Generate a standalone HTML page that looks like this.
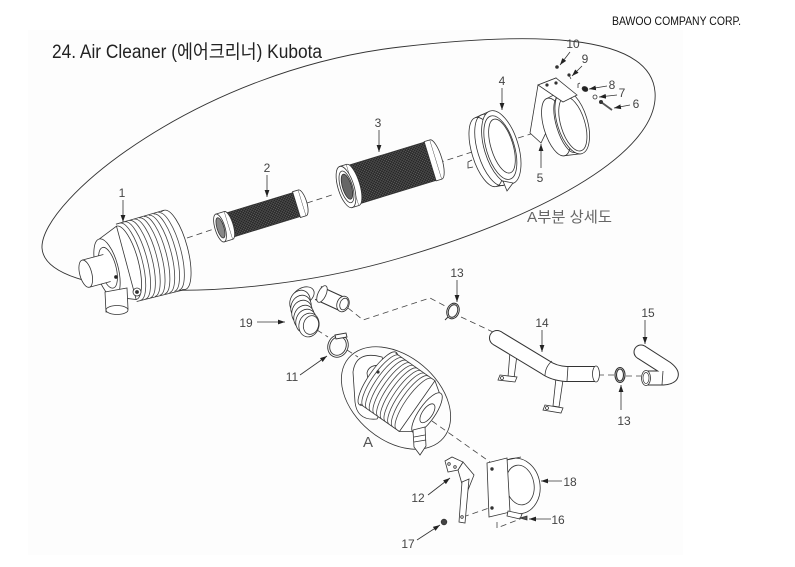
<!DOCTYPE html>
<html><head><meta charset="utf-8">
<style>
html,body{margin:0;padding:0;background:#fff;}
svg{display:block;}
text{font-family:"Liberation Sans","Noto Sans CJK KR",sans-serif;}
</style></head><body>
<svg width="795" height="567" viewBox="0 0 795 567" xmlns="http://www.w3.org/2000/svg">
<defs>
<pattern id="mesh" width="3" height="3" patternUnits="userSpaceOnUse"><rect width="3" height="3" fill="#262626"/><path d="M0,0L3,3M3,0L0,3" stroke="#6a6a6a" stroke-width="0.45"/></pattern>
<marker id="ar" markerWidth="8" markerHeight="6" refX="7" refY="3" orient="auto" markerUnits="userSpaceOnUse"><path d="M0,0.6 L7,3 L0,5.4z" fill="#222"/></marker>
</defs>
<rect x="28" y="30" width="655" height="525" fill="#fdfdfd"/>

<text x="52" y="58" font-size="19" fill="#222" textLength="270" lengthAdjust="spacingAndGlyphs">24. Air Cleaner (에어크리너) Kubota</text>
<text x="612" y="25" font-size="12" fill="#111" textLength="129" lengthAdjust="spacingAndGlyphs">BAWOO COMPANY CORP.</text>

<!-- big detail ellipse -->
<path d="M42,248 C40,200 200,70 400,47 C520,33 650,30 655,92 C660,150 550,214 400,258 C240,305 45,300 42,248 Z" fill="none" stroke="#333" stroke-width="0.9"/>
<text x="527" y="222" font-size="15" fill="#666" textLength="85" lengthAdjust="spacingAndGlyphs">A부분  상세도</text>

<!-- main axis dashes -->
<g stroke="#444" stroke-width="0.8" stroke-dasharray="6,4" fill="none">
<line x1="187" y1="238" x2="214" y2="229"/>
<line x1="307" y1="203" x2="335" y2="194"/>
<line x1="438" y1="163" x2="472" y2="152"/>
<line x1="518" y1="138" x2="560" y2="125"/>
</g>

<!-- Part 1 -->
<g transform="translate(107,268) rotate(-15)" stroke="#333" stroke-width="0.8" fill="#fff">
 <ellipse cx="70" cy="0" rx="13" ry="41"/>
 <rect x="20" y="-40" width="50" height="80" stroke="none"/>
 <line x1="20" y1="-40" x2="70" y2="-41"/>
 <line x1="20" y1="40" x2="70" y2="41"/>
 <g fill="none" stroke="#444">
 <path d="M24,-40 A12 40 0 0 1 24,40"/><path d="M29,-40 A12 40 0 0 1 29,40"/><path d="M34,-40 A12 40 0 0 1 34,40"/>
 <path d="M39,-40 A12 40 0 0 1 39,40"/><path d="M44,-40 A12 40 0 0 1 44,40"/><path d="M49,-40 A12 40 0 0 1 49,40"/>
 <path d="M54,-40 A12 40 0 0 1 54,40"/><path d="M59,-40 A12 40 0 0 1 59,40"/><path d="M64,-40 A12 40 0 0 1 64,40"/>
 </g>
 <path d="M0,-30 L20,-38 L20,38 L0,30Z"/>
 <path d="M20,-38 A12 38 0 0 1 20,38" fill="none"/>
 <ellipse cx="0" cy="0" rx="11" ry="30"/>
 <ellipse cx="1" cy="0" rx="8" ry="21" fill="none"/>
 <rect x="-22" y="-14" width="22" height="28" stroke="none"/>
 <line x1="-22" y1="-14" x2="0" y2="-14"/><line x1="-22" y1="14" x2="0" y2="14"/>
 <ellipse cx="-22" cy="0" rx="6" ry="14"/>
</g>
<g stroke="#333" stroke-width="0.8" fill="#fff">
 <path d="M105,292 L127,288 L128,309 L106,312Z"/>
 <ellipse cx="117" cy="310" rx="11" ry="4.5"/>
 <circle cx="137" cy="292" r="4"/>
 <circle cx="137" cy="292" r="1.5" fill="#333"/>
 <circle cx="116" cy="277" r="1.5" fill="#222"/>
</g>

<!-- Part 2 -->
<g transform="translate(220,228) rotate(-17)" stroke="#333" stroke-width="0.8">
 <rect x="9" y="-12.5" width="72" height="25" fill="url(#mesh)"/>
 <rect x="80" y="-13.5" width="6" height="27" fill="#fff"/>
 <path d="M86,-13.5 A4.5 13.5 0 0 1 86,13.5" fill="#fff"/>
 <rect x="0" y="-14.5" width="9" height="29" fill="#fff"/>
 <path d="M9,-14.5 A4.5 14.5 0 0 1 9,14.5" fill="#fff"/>
 <ellipse cx="0" cy="0" rx="5" ry="14.5" fill="#fff"/>
 <ellipse cx="0.5" cy="0" rx="3.5" ry="10.5" fill="#888"/>
</g>

<!-- Part 3 -->
<g transform="translate(346,187) rotate(-17)" stroke="#333" stroke-width="0.8">
 <rect x="7" y="-20" width="82" height="40" fill="url(#mesh)"/>
 <rect x="88" y="-20.5" width="6" height="41" fill="#fff"/>
 <path d="M94,-20.5 A6 20.5 0 0 1 94,20.5" fill="#fff"/>
 <rect x="0" y="-21.5" width="7" height="43" fill="#fff"/>
 <path d="M7,-21.5 A7 21.5 0 0 1 7,21.5" fill="#fff"/>
 <ellipse cx="0" cy="0" rx="8" ry="21.5" fill="#fff"/>
 <ellipse cx="0.5" cy="0" rx="6" ry="16.5" fill="#fff"/>
 <ellipse cx="1" cy="0" rx="4.5" ry="13" fill="#666"/>
</g>

<!-- Part 4 -->
<g transform="translate(486,152) rotate(-17)" stroke="#333" stroke-width="0.8" fill="none">
 <ellipse cx="0" cy="0" rx="14" ry="36" fill="#fff"/>
 <path d="M0,-36 L16,-38 M0,36 L16,38"/>
 <ellipse cx="7" cy="0" rx="15" ry="37"/>
 <ellipse cx="16" cy="0" rx="17" ry="38" fill="#fff"/>
 <ellipse cx="15" cy="0" rx="14" ry="33"/>
 <ellipse cx="17" cy="-1" rx="11" ry="28" fill="#fff"/>
</g>
<g stroke="#333" stroke-width="0.8" fill="#fff">
 <path d="M503,181 L513,183 L507,191Z"/>
 <path d="M472,160 L468,162 L468,168 L473,167"/>
</g>

<!-- Part 5 -->
<g stroke="#333" stroke-width="0.8" fill="#fff">
 <path d="M538,85 L556,78 L556,112 L541,143 L530,133Z"/>
</g>
<g transform="translate(556,127) rotate(-17)" stroke="#333" stroke-width="0.8" fill="none">
 <ellipse cx="0" cy="0" rx="12" ry="30" fill="#fff"/>
 <path d="M0,-30 L17,-33 M0,30 L17,33"/>
 <ellipse cx="17" cy="0" rx="15" ry="33" fill="#fff"/>
 <ellipse cx="17" cy="2" rx="12" ry="28"/>
 <path d="M11,-28 A10 28 0 0 0 11,30"/>
</g>
<g stroke="#333" stroke-width="0.8" fill="#fff">
 <path d="M538,85 L556,78 L577,95 L563,102Z"/>
 <circle cx="547" cy="85" r="1.2" fill="#333"/>
 <circle cx="556" cy="83" r="1.2" fill="#333"/>
</g>

<!-- small parts 6-10 -->
<g stroke="#333" stroke-width="0.8">
 <circle cx="557" cy="67" r="1.4" fill="#333"/>
 <line x1="569" y1="75" x2="571" y2="79"/>
 <circle cx="569" cy="75" r="1.2" fill="#333"/>
 <path d="M578,88 L578,84 L580,83" fill="none"/>
 <ellipse cx="585" cy="89" rx="3" ry="2.3" fill="#222" transform="rotate(30 585 89)"/>
 <circle cx="595" cy="97" r="2" fill="#fff"/>
 <line x1="601" y1="102" x2="612" y2="110" stroke-width="1.8" stroke="#555"/>
 <circle cx="601" cy="102" r="1.6" fill="#333"/>
</g>

<!-- Part 19 -->
<g stroke="#333" stroke-width="0.8" fill="#fff">
 <path d="M318,293 L342,304" stroke="#333" stroke-width="15" fill="none"/>
 <path d="M318,293 L342,304" stroke="#fff" stroke-width="13" fill="none"/>
 <ellipse cx="343" cy="304" rx="6" ry="8" transform="rotate(20 343 304)"/>
 <ellipse cx="344" cy="304" rx="4" ry="6" transform="rotate(20 344 304)"/>
 <ellipse cx="322" cy="294" rx="4" ry="9" transform="rotate(25 322 294)"/>
 <ellipse cx="303" cy="296" rx="12" ry="8" transform="rotate(-30 303 296)"/>
 <ellipse cx="300" cy="302" rx="10" ry="12" transform="rotate(20 300 302)"/>
 <ellipse cx="301" cy="307" rx="10" ry="12" transform="rotate(20 301 307)"/>
 <ellipse cx="302" cy="312" rx="10" ry="12" transform="rotate(20 302 312)"/>
 <ellipse cx="304" cy="317" rx="10" ry="12" transform="rotate(20 304 317)"/>
 <ellipse cx="306" cy="321" rx="10" ry="12" transform="rotate(20 306 321)"/>
 <ellipse cx="309" cy="325" rx="10" ry="12" transform="rotate(15 309 325)"/>
 <ellipse cx="311" cy="325" rx="7.5" ry="9.5" transform="rotate(15 311 325)"/>
</g>

<!-- Part 11 -->
<g stroke="#333" stroke-width="0.9" fill="none">
 <ellipse cx="338" cy="346" rx="10" ry="11.5" transform="rotate(25 338 346)"/>
 <ellipse cx="338" cy="346" rx="8" ry="9.5" transform="rotate(25 338 346)"/>
 <path d="M335,335 L346,333 L347,337 L336,339Z" fill="#fff"/>
</g>

<!-- Part 13 top -->
<g stroke="#333" stroke-width="1" fill="none">
 <ellipse cx="453" cy="311" rx="6" ry="8" transform="rotate(20 453 311)"/>
 <ellipse cx="453" cy="311" rx="4.5" ry="6.5" transform="rotate(20 453 311)"/>
 <path d="M448,317 L445,320"/>
</g>

<!-- dashed routes -->
<g stroke="#444" stroke-width="0.8" stroke-dasharray="6,4" fill="none">
 <path d="M348,308 L363,320 L430,298 L447,307"/>
 <line x1="461" y1="317" x2="493" y2="332"/>
 <line x1="317" y1="330" x2="328" y2="337"/>
 <line x1="347" y1="350" x2="358" y2="357"/>
 <line x1="598" y1="375" x2="614" y2="375"/>
 <line x1="626" y1="376" x2="641" y2="376"/>
 <line x1="432" y1="421" x2="490" y2="462"/>
 <line x1="500" y1="469" x2="520" y2="482"/>
 <line x1="463" y1="517" x2="489" y2="508"/>
 <path d="M497,522 L497,528 L520,519"/>
</g>

<!-- Part 14 brackets -->
<g stroke="#333" stroke-width="0.8" fill="#fff">
 <path d="M510,352 L517,355 L514,378 L508,377Z"/>
 <path d="M500,375 L517,377 L515,382 L498,380Z"/>
 <circle cx="502" cy="378" r="1.5"/>
 <path d="M556,378 L563,380 L559,407 L553,406Z"/>
 <path d="M545,405 L563,408 L561,413 L543,410Z"/>
 <circle cx="547" cy="408" r="1.5"/>
</g>
<!-- Part 14 pipe -->
<g fill="none">
 <circle cx="497" cy="338" r="8" fill="#333"/>
 <path d="M497,338 L545,367 Q553,373 566,374 L596,374" stroke="#333" stroke-width="16"/>
 <circle cx="497" cy="338" r="7" fill="#fff"/>
 <path d="M497,338 L545,367 Q553,373 566,374 L596,374" stroke="#fff" stroke-width="14"/>
 <ellipse cx="596" cy="374" rx="3.5" ry="8" fill="#fff" stroke="#333" stroke-width="0.8"/>
 <path d="M552,361 Q545,367 545,376 M568,366 L567,381" stroke="#333" stroke-width="0.8"/>
</g>

<!-- Part 13 lower -->
<g stroke="#333" stroke-width="1.1" fill="none">
 <ellipse cx="620" cy="375" rx="5" ry="7.5"/>
 <ellipse cx="620" cy="375" rx="3.5" ry="6"/>
</g>

<!-- Part 15 -->
<g fill="none">
 <circle cx="641" cy="352" r="7.5" fill="#333"/>
 <path d="M641,352 L666,368 Q678,377 663,378 L647,378" stroke="#333" stroke-width="15"/>
 <circle cx="641" cy="352" r="6.5" fill="#fff"/>
 <path d="M641,352 L666,368 Q678,377 663,378 L647,378" stroke="#fff" stroke-width="13"/>
 <path d="M663,371 L662,385" stroke="#333" stroke-width="0.8"/>
 <ellipse cx="646" cy="378" rx="4.5" ry="7.5" fill="#fff" stroke="#333" stroke-width="0.8"/>
 <ellipse cx="646" cy="378" rx="3" ry="5.5" stroke="#333" stroke-width="0.7"/>
</g>

<!-- Housing A -->
<ellipse cx="396" cy="398" rx="62" ry="42" transform="rotate(40 396 398)" fill="none" stroke="#333" stroke-width="0.8"/>
<path d="M382,357 Q356,350 353,372 L355,402 Q357,421 377,419 L382,410 L372,405 L367,373 Q369,363 385,366Z" fill="#fff" stroke="#333" stroke-width="0.8"/>
<g transform="translate(427,413) rotate(35)" stroke="#333" stroke-width="0.8" fill="#fff">
 <ellipse cx="-60" cy="0" rx="9" ry="32"/>
 <rect x="-60" y="-31" width="48" height="62" stroke="none"/>
 <line x1="-60" y1="-31" x2="-12" y2="-31"/><line x1="-60" y1="31" x2="-12" y2="31"/>
 <g fill="none" stroke="#444">
 <path d="M-56,-31 A9 31 0 0 0 -56,31"/><path d="M-51.5,-31 A9 31 0 0 0 -51.5,31"/><path d="M-47,-31 A9 31 0 0 0 -47,31"/>
 <path d="M-42.5,-31 A9 31 0 0 0 -42.5,31"/><path d="M-38,-31 A9 31 0 0 0 -38,31"/><path d="M-33.5,-31 A9 31 0 0 0 -33.5,31"/>
 <path d="M-29,-31 A9 31 0 0 0 -29,31"/><path d="M-24.5,-31 A9 31 0 0 0 -24.5,31"/><path d="M-20,-31 A9 31 0 0 0 -20,31"/>
 <path d="M-15.5,-31 A9 31 0 0 0 -15.5,31"/>
 </g>
 <path d="M-12,-31 L-2,-24 L-2,24 L-12,31Z"/>
 <ellipse cx="0" cy="0" rx="8" ry="24"/>
 <ellipse cx="0.5" cy="0" rx="5" ry="11"/>
</g>
<g stroke="#333" stroke-width="0.8" fill="#fff">
 <path d="M413,430 L425,427 L426,446 L420,455 L414,447Z"/>
 <path d="M414,437 L425,435 M414,442 L426,440"/>
 <circle cx="378" cy="372" r="1.2" fill="#333"/>
</g>

<!-- Part 18 -->
<g stroke="#333" stroke-width="0.8" fill="#fff">
 <ellipse cx="517" cy="486" rx="23" ry="28" transform="rotate(-10 517 486)"/>
 <ellipse cx="520" cy="485" rx="14" ry="20" transform="rotate(-10 520 485)"/>
 <path d="M497,462 L521,457"/>
 <path d="M487,463 L507,458 L510,512 L489,517Z"/>
 <circle cx="492" cy="469" r="1.3" fill="#333"/>
 <circle cx="492" cy="508" r="1.3" fill="#333"/>
 <path d="M508,511 L522,514 L520,519 L507,516Z"/>
</g>

<!-- Part 12 -->
<g stroke="#333" stroke-width="0.8" fill="#fff">
 <path d="M458,470 L463,462 L474,475 L468,490 L462,484Z"/>
 <path d="M462,482 L469,479 L465,523 L459,522Z"/>
 <path d="M445,461 L452,457 L463,462 L458,470 L448,472Z"/>
 <circle cx="449" cy="464" r="1.3"/>
 <circle cx="455" cy="467" r="1.3"/>
 <circle cx="462" cy="517" r="1.3"/>
</g>

<!-- Part 16, 17 -->
<g stroke="#333" stroke-width="0.8">
 <path d="M520,518 L527,516 L527,520Z" fill="#555"/>
 <circle cx="444" cy="522" r="2.8" fill="#444"/>
</g>

<!-- labels & leaders -->
<g stroke="#333" stroke-width="0.8" fill="none" marker-end="url(#ar)">
 <line x1="123" y1="200" x2="123" y2="222"/>
 <line x1="267" y1="175" x2="267" y2="197"/>
 <line x1="379" y1="130" x2="379" y2="152"/>
 <line x1="502" y1="88" x2="502" y2="110"/>
 <line x1="541" y1="168" x2="541" y2="144"/>
 <line x1="570" y1="52" x2="560" y2="65"/>
 <line x1="582" y1="66" x2="572" y2="76"/>
 <line x1="607" y1="86" x2="589" y2="89"/>
 <line x1="617" y1="95" x2="599" y2="97"/>
 <line x1="630" y1="105" x2="614" y2="108"/>
 <line x1="457" y1="280" x2="457" y2="302"/>
 <line x1="257" y1="322" x2="285" y2="322"/>
 <line x1="300" y1="375" x2="327" y2="356"/>
 <line x1="542" y1="330" x2="542" y2="352"/>
 <line x1="645" y1="320" x2="645" y2="344"/>
 <line x1="621" y1="410" x2="621" y2="385"/>
 <line x1="428" y1="495" x2="450" y2="478"/>
 <line x1="562" y1="481" x2="541" y2="481"/>
 <line x1="551" y1="519" x2="529" y2="519"/>
 <line x1="417" y1="540" x2="440" y2="525"/>
</g>
<g font-size="12" fill="#444" text-anchor="middle">
 <text x="122" y="197">1</text>
 <text x="267" y="172">2</text>
 <text x="378" y="127">3</text>
 <text x="502" y="85">4</text>
 <text x="540" y="182">5</text>
 <text x="636" y="108">6</text>
 <text x="622" y="97">7</text>
 <text x="612" y="89">8</text>
 <text x="585" y="63">9</text>
 <text x="573" y="48">10</text>
 <text x="292" y="381">11</text>
 <text x="418" y="502">12</text>
 <text x="457" y="277">13</text>
 <text x="542" y="327">14</text>
 <text x="648" y="317">15</text>
 <text x="624" y="425">13</text>
 <text x="558" y="524">16</text>
 <text x="408" y="548">17</text>
 <text x="570" y="486">18</text>
 <text x="246" y="327">19</text>
</g>
<text x="368" y="447" font-size="15" fill="#555" text-anchor="middle">A</text>
</svg>
</body></html>
